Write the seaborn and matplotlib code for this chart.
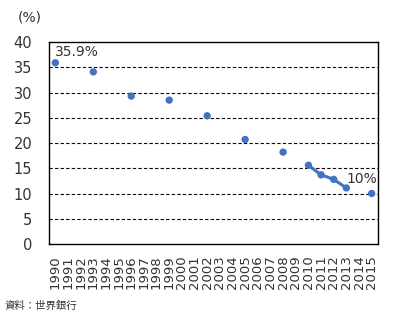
import numpy as np
import pandas as pd
import matplotlib
matplotlib.use("Agg")
import matplotlib.pyplot as plt
import seaborn as sns

years = [str(y) for y in range(1990, 2016)]
obs_years = [1990, 1993, 1996, 1999, 2002, 2005, 2008, 2010, 2011, 2012, 2013, 2015]
obs_values = [35.9, 34.1, 29.3, 28.5, 25.4, 20.7, 18.2, 15.6, 13.7, 12.8, 11.1, 10.0]
line_years = [2010, 2011, 2012, 2013]
yticks = [0, 5, 10, 15, 20, 25, 30, 35, 40]

sns.set_style("white")
plt.rcParams['font.family'] = ['DejaVu Sans', 'Noto Sans CJK JP']

color = "#4272c0"
df = pd.DataFrame({"year": obs_years, "value": obs_values})
df["pos"] = df["year"] - 1990
dline = df[df["year"].isin(line_years)]

fig = plt.figure(figsize=(4.0, 3.14), dpi=100)
ax = fig.add_axes([0.1225, 0.223, 0.8225, 0.643])

for v in yticks[1:-1]:
    ax.axhline(v, color="black", linestyle=(0, (3, 2)), linewidth=0.8, zorder=0)

sns.lineplot(data=dline, x="pos", y="value", color=color, linewidth=2.2, ax=ax, zorder=2)
sns.scatterplot(data=df, x="pos", y="value", color=color, s=28, edgecolor="none", ax=ax, zorder=3)

ax.set_xlim(-0.5, len(years) - 0.5)
ax.set_ylim(0, 40)
ax.set_xticks(range(len(years)))
ax.set_xticklabels(years, rotation=90, fontsize=9.5, color="#333333")
ax.set_yticks(yticks)
ax.set_yticklabels([str(t) for t in yticks], fontsize=10.5, color="#333333")
ax.tick_params(axis="x", length=0, pad=8)
ax.tick_params(axis="y", length=0, pad=12)
ax.set_xlabel("")
ax.set_ylabel("")
for s in ax.spines.values():
    s.set_color("black")
    s.set_linewidth(1.0)

ax.text(0.0, 36.6, "35.9%", fontsize=10, color="#333333", ha="left", va="bottom")
ax.text(23.0, 11.4, "10%", fontsize=10, color="#333333", ha="left", va="bottom")

fig.text(0.075, 0.945, "(%)", fontsize=10, color="#333333", ha="center", va="center")
fig.text(0.012, 0.027, "資料：世界銀行", fontsize=7.5, color="#333333", ha="left", va="center",
         family=['Noto Sans CJK JP', 'DejaVu Sans'])

fig.savefig("out.png", dpi=100)
